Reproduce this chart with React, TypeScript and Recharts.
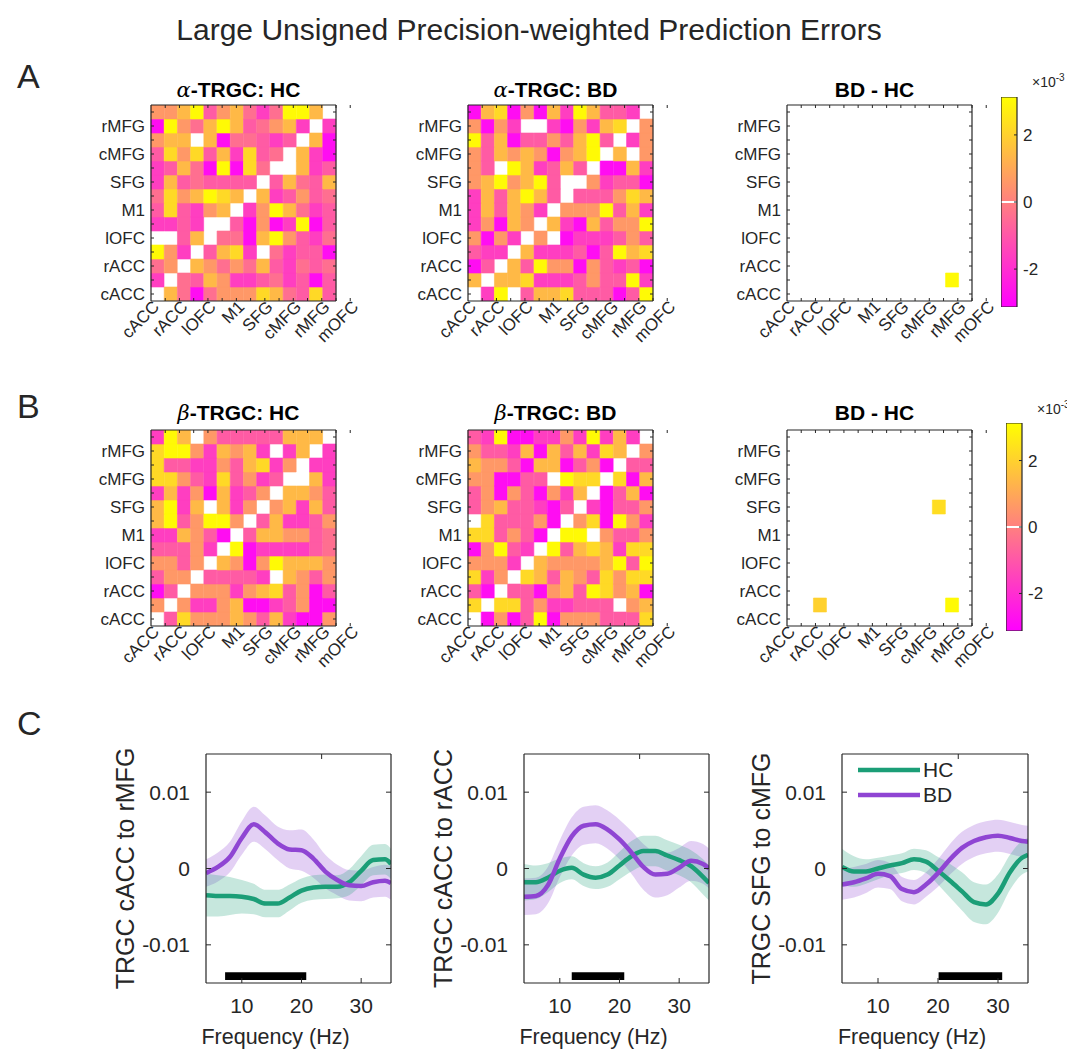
import React from 'react';
import {
  BarChart,
  Bar,
  Cell,
  XAxis,
  YAxis,
  ReferenceArea,
  ComposedChart,
  Line,
  Area,
  Legend,
  Label,
} from 'recharts';

const FONT = '"Liberation Sans", Arial, Helvetica, sans-serif';
const INK = '#262626';
const HC_COLOR = '#1b9e77';
const BD_COLOR = '#8f45d3';

// ---------- connectivity matrices (units of 1e-3, rows listed top to bottom) ----------
const regionLabelsX = ['cACC', 'rACC', 'lOFC', 'M1', 'SFG', 'cMFG', 'rMFG', 'mOFC'];
const regionLabelsY = ['cACC', 'rACC', 'lOFC', 'M1', 'SFG', 'cMFG', 'rMFG'];
const labelTicksX = [1, 3, 5, 7, 9, 11, 13, 15];
const labelTicksY = [1, 3, 5, 7, 9, 11, 13];
const cellTicks = [1, 2, 3, 4, 5, 6, 7, 8, 9, 10, 11, 12, 13, 14];
const colorLimit = 3.13;
const colorbarTicks = [-2, 0, 2];

const alphaHC = [
  [0.6, 0.6, 1.4, 3, -0.9, 0.6, 1.4, -0.4, -1.6, -0.4, 3, 3, 1.4, 0],
  [-2.8, 3, 0.6, -0.4, 1.4, 3, 1.4, -0.9, -0.4, 0.6, 1.4, -1.6, 0, -1.6],
  [0.6, 1.4, 1.4, 0, 1.4, -2.8, -0.4, -0.4, -0.9, -1.6, -0.9, 0, 1.4, -2.8],
  [-0.9, 2.2, 0.6, 2.2, -0.9, 1.4, -1.6, 2.2, -0.9, -0.4, 0, 1.4, -1.6, -2.8],
  [-1.6, -0.9, 1.4, -0.4, -2.8, 3, -2.8, 2.2, -0.4, 0, 0, 1.4, -1.6, -0.9],
  [-1.6, 1.4, -0.9, -0.4, -0.9, -0.9, -0.9, -0.9, 0, -0.9, 1.4, -0.4, -0.9, 1.4],
  [-0.4, 2.2, 0.6, 1.4, 3, 2.2, 1.4, 0, 1.4, -1.6, -0.9, 0.6, -0.9, -0.4],
  [-0.9, 2.2, -0.9, -1.6, 0.6, 1.4, 0, -1.6, 0.6, 3, 1.4, -0.4, -1.6, -0.9],
  [-1.6, -1.6, -0.9, -1.6, 0, 0, -0.9, -2.8, 0.6, -2.8, -1.6, 3, -2.8, -0.9],
  [0, 0, -0.9, 1.4, 0, -0.4, -0.4, -2.8, 1.4, 3, 0.6, -0.9, -1.6, -0.4],
  [3, 0.6, -1.6, 0, -0.9, 1.4, 2.2, -1.6, 0, -0.4, -1.6, -0.9, -0.9, -2.8],
  [-0.4, 0.6, 0, 1.4, 0.6, -0.4, 0.6, -0.4, 1.4, -0.9, -1.6, -0.4, -0.9, -0.4],
  [-1.6, 0, -0.4, -0.9, 1.4, 0.6, -1.6, -1.6, -0.9, -0.4, -1.6, -0.9, -2.8, -0.9],
  [0, 1.4, -0.4, -2.8, -0.4, 0.6, 0.6, 0.6, 2.2, 1.4, -0.4, -0.9, 2.2, -0.9],
];

const alphaBD = [
  [-2.8, 1.4, 2.2, -2.8, 0.6, -2.8, 1.4, -1.6, 3, 1.4, -0.9, -0.9, -1.6, 0],
  [0.6, -2.8, 0.6, -1.6, 0, 0, -1.6, -2.8, 0.6, -1.6, 1.4, 2.2, 0, 0.6],
  [3, -0.9, 1.4, -2.8, -0.9, -0.9, 0.6, -0.9, 1.4, 3, -0.9, 0, -1.6, 0.6],
  [0.6, -0.9, 1.4, 0.6, 1.4, 0.6, -2.8, 0.6, 1.4, 3, 0, 1.4, 0, 0.6],
  [0.6, -0.9, 0, 3, 1.4, -1.6, -0.9, 1.4, -0.9, 0, -2.8, -2.8, 1.4, -1.6],
  [0.6, 1.4, 3, 0.6, 1.4, 3, -0.9, 0, 0, 0.6, -1.6, -0.9, -0.9, -2.8],
  [-1.6, 1.4, -0.9, 1.4, 3, 1.4, -0.9, 0, -0.9, -0.9, -0.9, 0.6, 2.2, 1.4],
  [-1.6, 1.4, -0.9, 1.4, 0.6, -1.6, 0, 0.6, 0.6, 0.6, 3, -0.9, 1.4, -1.6],
  [-1.6, 0.6, -2.8, 1.4, 0.6, 0, 1.4, -1.6, -2.8, 1.4, -0.9, 0.6, 0.6, 3],
  [0.6, -2.8, 0.6, -1.6, 0, 0.6, 0, -2.8, -1.6, -1.6, -1.6, -0.9, 0.6, -0.9],
  [-0.9, -1.6, -1.6, 0, 1.4, -1.6, -1.6, -1.6, -0.9, -2.8, -0.9, 3, 1.4, 2.2],
  [-2.8, -0.9, 0, 1.4, -0.9, 3, 0.6, 0.6, -2.8, 0.6, -0.9, -1.6, -0.9, -2.8],
  [1.4, 0, 1.4, 1.4, 2.2, -1.6, -1.6, -1.6, -0.9, 0.6, -0.9, -0.9, 3, -1.6],
  [0, -1.6, 3, 0, -0.9, 1.4, 1.4, 2.2, -0.9, -0.9, -0.9, -2.8, -0.9, 3],
];

const betaHC = [
  [-1.6, 3, 1.4, 0, 0.6, -0.9, -0.9, -0.9, -0.9, -0.9, 1.4, 1.4, 1.4, 0],
  [2.2, 3, 3, 0.6, -1.6, 1.4, 0.6, 1.4, -1.6, 0, -1.6, 1.4, 0, -1.6],
  [2.2, -0.9, -0.9, -1.6, -1.6, 0.6, -0.9, 1.4, 2.2, -1.6, 0.6, 0, -1.6, -1.6],
  [2.2, 2.2, 0.6, -0.9, -1.6, 2.2, -0.9, 0.6, -1.6, -0.9, 0, 0, 1.4, -1.6],
  [-1.6, 1.4, -1.6, 0.6, -2.8, 1.4, -1.6, -0.9, 0.6, 0, 1.4, 1.4, 0.6, -0.9],
  [1.4, 3, -1.6, 1.4, 0, 1.4, -1.6, 0.6, 0, 0.6, 1.4, -1.6, 1.4, -0.9],
  [1.4, 3, -0.9, 0.6, 3, 3, 0.6, 0, -0.9, 1.4, -1.6, -1.6, -0.9, 0.6],
  [-1.6, -1.6, 1.4, 0.6, -0.9, -2.8, 0, -0.9, 1.4, 1.4, 0.6, 0.6, -0.9, -0.4],
  [-0.9, -0.9, -0.9, 0.6, -1.6, 0, 3, -2.8, -1.6, -1.6, -1.6, -1.6, -0.9, -0.4],
  [0.6, 0.6, -0.9, 0.6, 0, 1.4, 0.6, -2.8, 0.6, 3, 1.4, 1.4, 1.4, 0.6],
  [-0.9, 0.6, 0.6, 0, -0.9, -0.9, -0.9, -0.9, -1.6, 0, 1.4, 0.6, -0.9, 0.6],
  [-2.8, -0.9, 0, 0.6, 0.6, 0.6, -1.6, 0.6, 1.4, 2.2, -0.9, 0.6, -2.8, -0.9],
  [0.6, 0, 0.6, -1.6, -1.6, 0.6, 1.4, -2.8, -2.8, -1.6, -0.9, 0.6, -2.8, -2.8],
  [0, -0.9, 2.2, 0.6, 0.6, 0.6, 1.4, 0.6, -0.9, 1.4, -1.6, -2.8, -2.8, 0.6],
];

const betaBD = [
  [-0.9, -1.6, 3, -2.8, -2.8, -1.6, -1.6, 0.6, -1.6, 3, -1.6, 1.4, -1.6, 0],
  [0.6, -0.9, -0.9, -1.6, 1.4, -2.8, 1.4, -0.9, 1.4, -1.6, 2.2, 1.4, 0, 0.6],
  [1.4, 0.6, 0.6, -0.9, -2.8, 1.4, 1.4, -2.8, -0.9, 0.6, -2.8, 0, -0.9, -0.9],
  [0.6, 0.6, -2.8, -2.8, -0.9, -0.9, 0, 3, 2.2, 2.2, 0, 2.2, -2.8, 1.4],
  [-0.9, 0.6, -2.8, 0.6, -0.9, -2.8, 0.6, -1.6, 1.4, 0, -2.8, -0.9, 1.4, -2.8],
  [-0.9, 0.6, 1.4, -0.9, -0.9, -1.6, -2.8, -0.9, 0, -1.6, -2.8, -0.9, -0.9, 0.6],
  [0, 2.2, -0.9, -0.9, -0.9, 0.6, -2.8, 0, 0.6, 2.2, -2.8, 3, 0.6, -1.6],
  [2.2, 2.2, -0.9, 0.6, -0.9, -2.8, 0, 3, 3, 0, 0.6, -0.9, -0.9, 0.6],
  [-2.8, 0.6, 3, -0.9, -1.6, 0, 3, -0.9, 1.4, 2.2, 1.4, -1.6, 2.2, 2.2],
  [0.6, 0.6, 0.6, -1.6, 0, 1.4, 0.6, 0.6, 0.6, 0.6, 1.4, 3, -0.9, 3],
  [2.2, -1.6, 0.6, 0, 2.2, 1.4, -0.9, 1.4, 0.6, -0.9, 2.2, 0.6, 2.2, 2.2],
  [-0.9, -2.8, 0, -0.9, -0.9, -2.8, 0.6, 1.4, -0.9, 3, 2.2, 0.6, 1.4, -2.8],
  [2.2, 0, 2.2, 2.2, -0.9, 0.6, -1.6, -1.6, -0.9, -0.9, -0.9, 0, 0.6, 1.4],
  [0, -2.8, 0.6, -2.8, -0.9, 3, -2.8, 0.6, 0.6, 0.6, -0.9, -0.9, -0.9, 2.2],
];

// significant BD - HC differences: [row from top, column, value]
const alphaDiffCells = [[13, 13, 3.0]];
const betaDiffCells = [
  [6, 12, 2.3],
  [13, 3, 2.0],
  [13, 13, 3.0],
];

// ---------- TRGC spectra ----------
const freqs = [4, 6, 8, 10, 12, 14, 16, 18, 20, 22, 24, 26, 28, 30, 32, 34, 35];
const freqTicks = [10, 20, 30];
const trgcTicks = [-0.01, 0, 0.01];

const rmfgHC = [-0.0035, -0.0036, -0.0036, -0.0037, -0.004, -0.0046, -0.0046, -0.0038, -0.0029, -0.0025, -0.0024, -0.0024, -0.0018, -0.0003, 0.0011, 0.0012, 0.0006];
const rmfgHCsem = [0.0028, 0.0027, 0.0025, 0.0022, 0.002, 0.0018, 0.0018, 0.0017, 0.0016, 0.0016, 0.0016, 0.0015, 0.0017, 0.0019, 0.002, 0.002, 0.002];
const rmfgBD = [-0.0006, 0.0002, 0.0015, 0.004, 0.0058, 0.0047, 0.0033, 0.0025, 0.0024, 0.0013, -0.0004, -0.0015, -0.0022, -0.0023, -0.0018, -0.0016, -0.0019];
const rmfgBDsem = [0.0018, 0.0019, 0.002, 0.0022, 0.0023, 0.0022, 0.0022, 0.0025, 0.0027, 0.0025, 0.0022, 0.002, 0.002, 0.002, 0.002, 0.0021, 0.0022];
const rmfgSig = [7.2, 20.8];

const raccHC = [-0.0018, -0.0018, -0.0012, -0.0003, 0.0001, -0.0008, -0.0012, -0.0008, 0.0004, 0.0016, 0.0023, 0.0023, 0.0017, 0.0011, 0.0003, -0.0011, -0.0019];
const raccHCsem = [0.0024, 0.0022, 0.0019, 0.0016, 0.0015, 0.0015, 0.0015, 0.0016, 0.0018, 0.002, 0.002, 0.002, 0.002, 0.002, 0.0021, 0.0023, 0.0023];
const raccBD = [-0.0037, -0.0036, -0.0022, 0.0013, 0.0042, 0.0056, 0.0058, 0.0051, 0.0038, 0.0021, 0.0002, -0.0008, -0.0007, 0.0001, 0.001, 0.0006, 0];
const raccBDsem = [0.0024, 0.0024, 0.0024, 0.0024, 0.0025, 0.0025, 0.0025, 0.0025, 0.0026, 0.0028, 0.003, 0.003, 0.0028, 0.0026, 0.0026, 0.0026, 0.0026];
const raccSig = [12, 20.8];

const cmfgHC = [0.0002, -0.0004, -0.0004, 0, 0.0004, 0.0007, 0.0012, 0.0009, -0.0003, -0.0016, -0.003, -0.0044, -0.0047, -0.0033, -0.0005, 0.0014, 0.0018];
const cmfgHCsem = [0.0024, 0.002, 0.0016, 0.0014, 0.0013, 0.0013, 0.0014, 0.0015, 0.0018, 0.0022, 0.0025, 0.0026, 0.0026, 0.0025, 0.0023, 0.0022, 0.0022];
const cmfgBD = [-0.0021, -0.0018, -0.0013, -0.0007, -0.001, -0.0027, -0.0031, -0.0021, -0.0006, 0.0012, 0.0027, 0.0036, 0.0041, 0.0043, 0.004, 0.0036, 0.0035];
const cmfgBDsem = [0.002, 0.002, 0.0019, 0.0018, 0.0017, 0.0016, 0.0016, 0.0016, 0.0018, 0.002, 0.0021, 0.0021, 0.0021, 0.0021, 0.0021, 0.0021, 0.0021];
const cmfgSig = [20.1, 30.7];

// MATLAB "spring" map; exact zeros are left blank
const spring = (v: number) => {
  const t = Math.max(0, Math.min(1, (v + colorLimit) / (2 * colorLimit)));
  return `rgb(255,${Math.round(255 * t)},${Math.round(255 * (1 - t))})`;
};

const sparseToMatrix = (cells: number[][]) => {
  const m = alphaHC.map((r) => r.map(() => 0));
  cells.forEach(([r, c, v]) => {
    m[r - 1][c - 1] = v;
  });
  return m;
};

const BOX_W = 185;
const BOX_H = 196;
const YAX_W = 70;
const XAX_H = 62;
const RIGHT_PAD = 40;
const tickFont = { fontSize: 17, fill: INK, fontFamily: FONT };
const frameLine = { stroke: INK, strokeWidth: 1.2 };
// box edges with tick marks pointing into the plot, no labels
const innerTicks = {
  allowDataOverflow: true,
  interval: 0 as const,
  tickFormatter: () => '',
  axisLine: frameLine,
  tickLine: { stroke: INK },
};

// region names written at 45 degrees, their last letter tucked under the tick
const SlantedTick = ({ x, y, payload }: any) => {
  const ax = x - 9;
  const ay = y - 4;
  return (
    <text
      x={ax}
      y={ay}
      transform={`rotate(-45, ${ax}, ${ay})`}
      textAnchor="end"
      dominantBaseline="central"
      fontSize={17}
      fontFamily={FONT}
      fill={INK}
    >
      {regionLabelsX[(payload.value - 1) / 2]}
    </text>
  );
};

function Heatmap({ matrix, boxLeft, boxTop }: { matrix: number[][]; boxLeft: number; boxTop: number }) {
  const n = matrix.length;
  // one stacked column per matrix column, one unit segment per row (bottom row first)
  const data = matrix[0].map((_, c) => {
    const d: Record<string, number> = { col: c + 1 };
    matrix.forEach((_, k) => {
      d[`r${k}`] = 1;
    });
    return d;
  });
  const dom: [number, number] = [0.5, n + 0.5];
  // axis ids are chosen so the edge axes sit right on the box and the labelled ones outside them
  return (
    <div style={{ position: 'absolute', left: boxLeft - YAX_W, top: boxTop - 5 }}>
      <ComposedChart
        width={YAX_W + BOX_W + RIGHT_PAD}
        height={5 + BOX_H + XAX_H}
        data={data}
        margin={{ top: 4, right: RIGHT_PAD - 1, bottom: 0, left: 0 }}
        barCategoryGap={0}
        barGap={0}
      >
        <XAxis xAxisId="cat" dataKey="col" hide height={0} />
        <YAxis yAxisId="cat" type="number" domain={[0, n]} allowDataOverflow hide width={0} />
        <XAxis xAxisId="edgeB" type="number" domain={dom} ticks={cellTicks} height={1} tickSize={-3} {...innerTicks} />
        <XAxis xAxisId="edgeT" orientation="top" type="number" domain={dom} ticks={cellTicks} height={1} tickSize={-3} {...innerTicks} />
        <YAxis yAxisId="edgeL" type="number" domain={dom} ticks={cellTicks} width={1} tickSize={-3} {...innerTicks} />
        <YAxis yAxisId="edgeR" orientation="right" type="number" domain={dom} ticks={cellTicks} width={1} tickSize={-3} {...innerTicks} />
        <XAxis
          xAxisId="lab"
          type="number"
          domain={dom}
          allowDataOverflow
          ticks={labelTicksX}
          interval={0}
          height={XAX_H - 1}
          tickSize={0}
          tickMargin={6}
          tickLine={false}
          axisLine={false}
          tick={<SlantedTick />}
        />
        <YAxis
          yAxisId="lab"
          type="number"
          domain={dom}
          allowDataOverflow
          ticks={labelTicksY}
          interval={0}
          tickFormatter={(v: number) => regionLabelsY[(v - 1) / 2]}
          width={YAX_W - 1}
          tickSize={0}
          tickMargin={5}
          tickLine={false}
          axisLine={false}
          tick={tickFont}
        />
        {matrix.map((_, k) => (
          <Bar key={k} dataKey={`r${k}`} stackId="m" xAxisId="cat" yAxisId="cat" isAnimationActive={false}>
            {data.map((_, c) => {
              const v = matrix[n - 1 - k][c];
              if (v === 0) return <Cell key={c} fill="#ffffff" fillOpacity={0} />;
              const fill = spring(v);
              return <Cell key={c} fill={fill} stroke={fill} strokeWidth={0.6} />;
            })}
          </Bar>
        ))}
      </ComposedChart>
    </div>
  );
}

function Colorbar({ left, top, height, id }: { left: number; top: number; height: number; id: string }) {
  const cbData = [{ name: 'cb', span: [-colorLimit, colorLimit] }];
  return (
    <div style={{ position: 'absolute', left, top }}>
      <BarChart width={16 + 40} height={height} data={cbData} margin={{ top: 0, right: 0, bottom: 0, left: 0 }} barCategoryGap={0}>
        <defs>
          <linearGradient id={id} x1="0" y1="0" x2="0" y2="1">
            <stop offset="0" stopColor={spring(colorLimit)} />
            <stop offset="0.494" stopColor={spring(0.04)} />
            <stop offset="0.494" stopColor="#ffffff" />
            <stop offset="0.506" stopColor="#ffffff" />
            <stop offset="0.506" stopColor={spring(-0.04)} />
            <stop offset="1" stopColor={spring(-colorLimit)} />
          </linearGradient>
        </defs>
        <XAxis dataKey="name" hide height={0} />
        <YAxis
          orientation="right"
          type="number"
          domain={[-colorLimit, colorLimit]}
          allowDataOverflow
          ticks={colorbarTicks}
          interval={0}
          width={40}
          tickSize={-3}
          tickMargin={9}
          tickLine={{ stroke: INK }}
          axisLine={false}
          tick={tickFont}
        />
        <Bar dataKey="span" fill={`url(#${id})`} stroke={INK} strokeWidth={1.2} isAnimationActive={false} />
      </BarChart>
    </div>
  );
}

const LegendBox = ({ payload }: any) => {
  const order = ['hc', 'bd'];
  const items = (payload || [])
    .filter((p: any) => order.includes(p.dataKey))
    .sort((a: any, b: any) => order.indexOf(a.dataKey) - order.indexOf(b.dataKey));
  return (
    <div style={{ fontFamily: FONT, color: INK }}>
      {items.map((p: any) => (
        <div key={p.dataKey} style={{ display: 'flex', alignItems: 'center', height: 25 }}>
          <svg width={62} height={8}>
            <line x1={0} x2={62} y1={4} y2={4} stroke={p.color} strokeWidth={4.5} />
          </svg>
          <span style={{ marginLeft: 3, fontSize: 21 }}>{p.value}</span>
        </div>
      ))}
    </div>
  );
};

const SIG_Y: [number, number] = [-0.0146, -0.0136];

function Spectrum(props: {
  left: number;
  boxW: number;
  yLabel: string;
  hc: number[];
  hcSem: number[];
  bd: number[];
  bdSem: number[];
  sig: number[];
  legend?: boolean;
}) {
  const { left, boxW, yLabel, hc, hcSem, bd, bdSem, sig, legend } = props;
  const rows = freqs.map((f, i) => ({
    f,
    hc: hc[i],
    bd: bd[i],
    hcBand: [hc[i] - hcSem[i], hc[i] + hcSem[i]],
    bdBand: [bd[i] - bdSem[i], bd[i] + bdSem[i]],
  }));
  const xDom: [number, number] = [4, 35];
  const yDom: [number, number] = [-0.015, 0.015];
  const font = { fontSize: 21, fill: INK, fontFamily: FONT };
  return (
    <div style={{ position: 'absolute', left, top: 740 }}>
      <ComposedChart width={106 + boxW + 9} height={310} data={rows} margin={{ top: 13, right: 8, bottom: 0, left: 0 }}>
        <XAxis
          dataKey="f"
          type="number"
          domain={xDom}
          allowDataOverflow
          ticks={freqTicks}
          interval={0}
          height={67}
          tickSize={-5}
          tickMargin={20}
          tickLine={{ stroke: INK }}
          axisLine={frameLine}
          tick={font}
        >
          <Label value="Frequency (Hz)" position="insideBottom" offset={6} dx={-23} style={{ fontSize: 21.5, fill: INK, fontFamily: FONT }} />
        </XAxis>
        <YAxis
          type="number"
          domain={yDom}
          allowDataOverflow
          ticks={trgcTicks}
          interval={0}
          width={106}
          tickSize={-5}
          tickMargin={21}
          tickLine={{ stroke: INK }}
          axisLine={frameLine}
          tickFormatter={(v: number) => String(v)}
          tick={font}
        >
          <Label value={yLabel} angle={-90} position="insideLeft" offset={25} style={{ textAnchor: 'middle', fontSize: 25, fill: INK, fontFamily: FONT }} />
        </YAxis>
        <XAxis xAxisId="tt" orientation="top" type="number" domain={xDom} ticks={freqTicks} height={1} tickSize={-5} {...innerTicks} />
        <YAxis yAxisId="tr" orientation="right" type="number" domain={yDom} ticks={trgcTicks} width={1} tickSize={-5} {...innerTicks} />
        <Area dataKey="bdBand" type="monotone" stroke="none" fill={BD_COLOR} fillOpacity={0.25} legendType="none" activeDot={false} isAnimationActive={false} />
        <Area dataKey="hcBand" type="monotone" stroke="none" fill={HC_COLOR} fillOpacity={0.25} legendType="none" activeDot={false} isAnimationActive={false} />
        <Line dataKey="hc" name="HC" type="monotone" stroke={HC_COLOR} strokeWidth={4.5} dot={false} activeDot={false} isAnimationActive={false} />
        <Line dataKey="bd" name="BD" type="monotone" stroke={BD_COLOR} strokeWidth={4.5} dot={false} activeDot={false} isAnimationActive={false} />
        <ReferenceArea x1={sig[0]} x2={sig[1]} y1={SIG_Y[0]} y2={SIG_Y[1]} fill="#000000" fillOpacity={1} stroke="none" />
        {legend && (
          <Legend
            layout="horizontal"
            verticalAlign="middle"
            align="center"
            content={<LegendBox />}
            wrapperStyle={{ left: 122, top: 17, width: 110, height: 50 }}
          />
        )}
      </ComposedChart>
    </div>
  );
}

const text = (extra: React.CSSProperties): React.CSSProperties => ({
  position: 'absolute',
  fontFamily: FONT,
  color: INK,
  whiteSpace: 'nowrap',
  lineHeight: 1,
  ...extra,
});

function PanelTitle({ cx, top, greek, rest }: { cx: number; top: number; greek?: string; rest: string }) {
  return (
    <div style={text({ left: cx - 105, width: 200, top, textAlign: 'center', fontSize: 21, fontWeight: 'bold', color: '#000' })}>
      {greek && <span style={{ fontFamily: '"DejaVu Serif", serif', fontStyle: 'italic', fontWeight: 'normal' }}>{greek}</span>}
      {rest}
    </div>
  );
}

function Scale({ left, top }: { left: number; top: number }) {
  return (
    <div style={text({ left, top, fontSize: 14 })}>
      ×10<sup style={{ fontSize: 10 }}>-3</sup>
    </div>
  );
}

export default function App() {
  const boxLefts = [151, 468, 787];
  const centers = boxLefts.map((l) => l + BOX_W / 2);
  return (
    <div style={{ position: 'absolute', left: 0, top: 0, width: 1067, height: 1050, background: '#fff', overflow: 'hidden' }}>
      <div style={text({ left: 0, width: 1058, top: 15, textAlign: 'center', fontSize: 30 })}>
        Large Unsigned Precision-weighted Prediction Errors
      </div>

      <div style={text({ left: 17, top: 59, fontSize: 34 })}>A</div>
      <div style={text({ left: 17, top: 389, fontSize: 34 })}>B</div>
      <div style={text({ left: 17, top: 706, fontSize: 34 })}>C</div>

      <Heatmap matrix={alphaHC} boxLeft={boxLefts[0]} boxTop={105} />
      <Heatmap matrix={alphaBD} boxLeft={boxLefts[1]} boxTop={105} />
      <Heatmap matrix={sparseToMatrix(alphaDiffCells)} boxLeft={boxLefts[2]} boxTop={105} />
      <PanelTitle cx={centers[0]} top={79} greek="α" rest="-TRGC: HC" />
      <PanelTitle cx={centers[1]} top={79} greek="α" rest="-TRGC: BD" />
      <PanelTitle cx={centers[2]} top={79} rest="BD - HC" />
      <Colorbar left={1001} top={97} height={210} id="cbA" />
      <Scale left={1032} top={73} />

      <Heatmap matrix={betaHC} boxLeft={boxLefts[0]} boxTop={430} />
      <Heatmap matrix={betaBD} boxLeft={boxLefts[1]} boxTop={430} />
      <Heatmap matrix={sparseToMatrix(betaDiffCells)} boxLeft={boxLefts[2]} boxTop={430} />
      <PanelTitle cx={centers[0]} top={402} greek="β" rest="-TRGC: HC" />
      <PanelTitle cx={centers[1]} top={402} greek="β" rest="-TRGC: BD" />
      <PanelTitle cx={centers[2]} top={402} rest="BD - HC" />
      <Colorbar left={1006} top={423} height={208} id="cbB" />
      <Scale left={1037} top={400} />

      <Spectrum left={100} boxW={185} yLabel="TRGC cACC to rMFG" hc={rmfgHC} hcSem={rmfgHCsem} bd={rmfgBD} bdSem={rmfgBDsem} sig={rmfgSig} />
      <Spectrum left={418} boxW={185} yLabel="TRGC cACC to rACC" hc={raccHC} hcSem={raccHCsem} bd={raccBD} bdSem={raccBDsem} sig={raccSig} />
      <Spectrum left={736} boxW={186} yLabel="TRGC SFG to cMFG" hc={cmfgHC} hcSem={cmfgHCsem} bd={cmfgBD} bdSem={cmfgBDsem} sig={cmfgSig} legend />
    </div>
  );
}
